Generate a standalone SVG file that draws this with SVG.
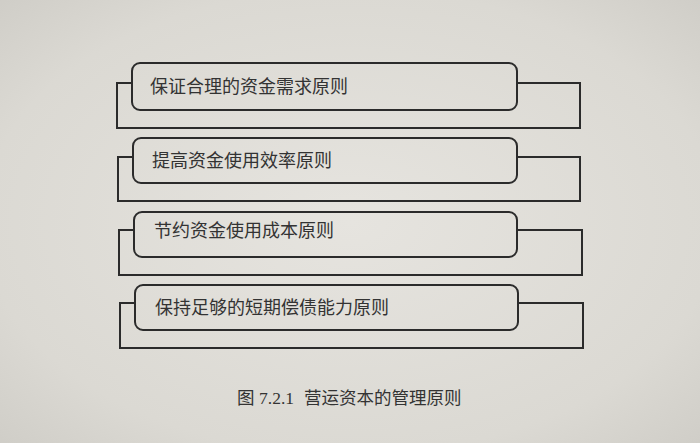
<svg xmlns="http://www.w3.org/2000/svg" width="700" height="443" viewBox="0 0 700 443">
<defs>
<radialGradient id="bg" cx="0.5" cy="0.5" r="0.75">
<stop offset="0" stop-color="#e6e4df"/>
<stop offset="0.7" stop-color="#dbd9d3"/>
<stop offset="1" stop-color="#cdcbc5"/>
</radialGradient>
<style>
.box{fill:none;stroke:#2b2b2b;stroke-width:2}
.br{fill:none;stroke:#2b2b2b;stroke-width:2}
.lb{font-family:"Noto Sans CJK SC","Noto Sans",sans-serif;font-size:18px;fill:#333}
.cap{font-family:"Noto Sans CJK SC","Noto Sans",sans-serif;font-size:17.5px;fill:#333}
.num{font-family:"Liberation Serif",serif;font-size:17.5px;fill:#333}
</style>
</defs>
<rect width="700" height="443" fill="url(#bg)"/>
<g id="connectors">
<path class="br" d="M132,83 H117 V128 H580 V83 H517"/>
<path class="br" d="M133,157 H118 V201 H580 V157 H517"/>
<path class="br" d="M134,230 H119 V275 H582 V230 H517"/>
<path class="br" d="M135,303 H120 V348 H583 V303 H518"/>
</g>
<g id="node1">
<rect class="box" x="132" y="63" width="385" height="47" rx="8"/>
<text class="lb" x="150" y="93">保证合理的资金需求原则</text>
</g>
<g id="node2">
<rect class="box" x="133" y="138" width="384" height="45" rx="8"/>
<text class="lb" x="152" y="167">提高资金使用效率原则</text>
</g>
<g id="node3">
<rect class="box" x="134" y="212" width="383" height="45" rx="8"/>
<text class="lb" x="154" y="237">节约资金使用成本原则</text>
</g>
<g id="node4">
<rect class="box" x="135" y="285" width="383" height="45" rx="8"/>
<text class="lb" x="155" y="314">保持足够的短期偿债能力原则</text>
</g>
<g id="caption">
<text class="cap" x="237" y="404">图</text>
<text class="num" x="259" y="404">7.2.1</text>
<text class="cap" x="304" y="404">营运资本的管理原则</text>
</g>
</svg>
